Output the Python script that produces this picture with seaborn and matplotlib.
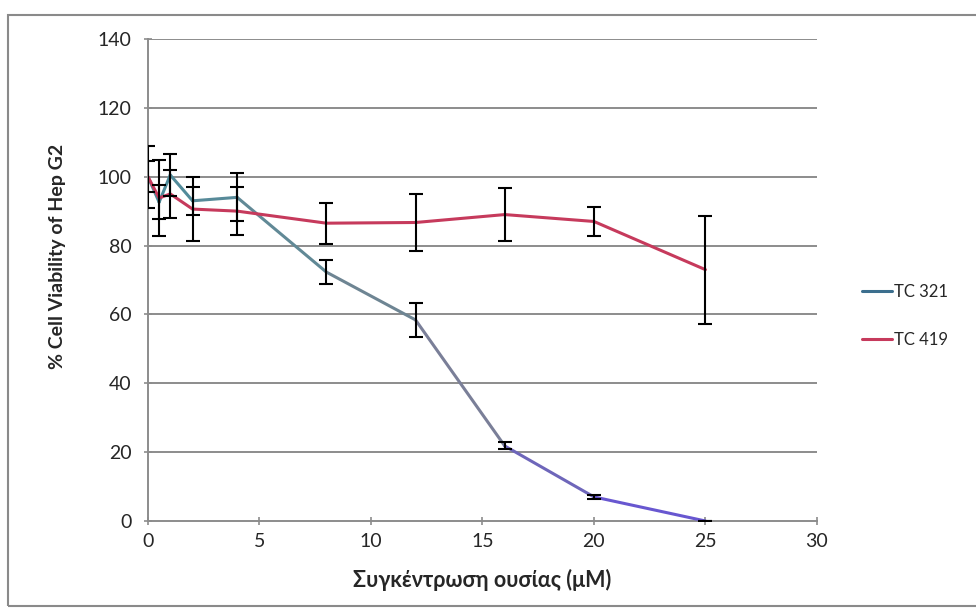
import pandas as pd
import matplotlib
matplotlib.use("Agg")
import matplotlib.pyplot as plt
import seaborn as sns
from matplotlib.lines import Line2D
from matplotlib.patches import Rectangle

# Datos
conc = [0, 0.5, 1, 2, 4, 8, 12, 16, 20, 25]
tc321 = [100, 92.6, 100.5, 93, 94, 72.3, 58.4, 21.8, 7, 0]
tc321_err = [4.5, 5, 6, 4, 7, 3.4, 4.9, 1, 0.5, 0]
tc419 = [100, 93.8, 95, 90.6, 90, 86.5, 86.7, 89, 87, 73]
tc419_err = [9, 11, 7, 9.4, 7, 6, 8.2, 7.8, 4.2, 15.7]

xticks = [0, 5, 10, 15, 20, 25, 30]
yticks = [0, 20, 40, 60, 80, 100, 120, 140]

# colores de cada tramo de TC 321 (degradado teal -> gris -> violeta)
seg_colors = ["#4a8d9c", "#4e8c9b", "#528b9a", "#578a99", "#618996",
              "#6e8593", "#7a7f98", "#6e66ba", "#6857d0"]

sns.set_theme(style="white")
plt.rcParams["font.family"] = ["Lato", "DejaVu Sans"]

fig = plt.figure(figsize=(9.76, 6.12), dpi=100)
ax = fig.add_axes([0.1516, 0.1487, 0.6854, 0.7876])

# marco exterior
fig.patches.append(Rectangle((0.008, 0.01), 1.2, 0.965, transform=fig.transFigure,
                             fill=False, edgecolor="#8a8a8a", linewidth=1.5))

# lineas de cuadricula
for yv in yticks[1:]:
    ax.axhline(yv, color="#8c8c8c", linewidth=1.4, zorder=1)

# TC 321 por tramos
for i in range(len(conc) - 1):
    seg = pd.DataFrame({"x": conc[i:i + 2], "y": tc321[i:i + 2]})
    sns.lineplot(data=seg, x="x", y="y", ax=ax, color=seg_colors[i],
                 linewidth=2.2, zorder=3)

df419 = pd.DataFrame({"x": conc, "y": tc419})
sns.lineplot(data=df419, x="x", y="y", ax=ax, color="#c63a5c", linewidth=2.2, zorder=3)

# barras de error
ax.errorbar(conc, tc321, yerr=tc321_err, fmt="none", ecolor="black",
            elinewidth=1.5, capsize=5, capthick=1.5, zorder=4)
ax.errorbar(conc, tc419, yerr=tc419_err, fmt="none", ecolor="black",
            elinewidth=1.5, capsize=5, capthick=1.5, zorder=4)

ax.set_xlim(0, 30)
ax.set_ylim(0, 140)
ax.set_xticks(xticks)
ax.set_yticks(yticks)
ax.tick_params(axis="both", labelsize=14, length=6, width=1.2, color="#8c8c8c",
               direction="inout", left=True, bottom=True)
ax.tick_params(axis="y", pad=9)
ax.tick_params(axis="x", pad=6)
ax.set_xlabel("Συγκέντρωση ουσίας (μM)", fontsize=15.5, fontweight="bold")
ax.set_ylabel("% Cell Viability of Hep G2", fontsize=14, fontweight="bold")
ax.xaxis.set_label_coords(0.5, -0.1)
ax.yaxis.set_label_coords(-0.122, 0.548)

for side in ["top", "right"]:
    ax.spines[side].set_visible(False)
ax.spines["left"].set_color("#8c8c8c")
ax.spines["left"].set_linewidth(1.4)
ax.spines["bottom"].set_color("#8c8c8c")
ax.spines["bottom"].set_linewidth(1.4)

handles = [Line2D([0], [0], color="#3c6f8e", linewidth=2.2),
           Line2D([0], [0], color="#c63a5c", linewidth=2.2)]
ax.legend(handles, ["TC 321", "TC 419"], loc="center left",
          bbox_to_anchor=(1.045, 0.425), frameon=False, fontsize=12,
          handlelength=1.8, handletextpad=0.1, labelspacing=1.9)

fig.savefig("out.png", dpi=100)
